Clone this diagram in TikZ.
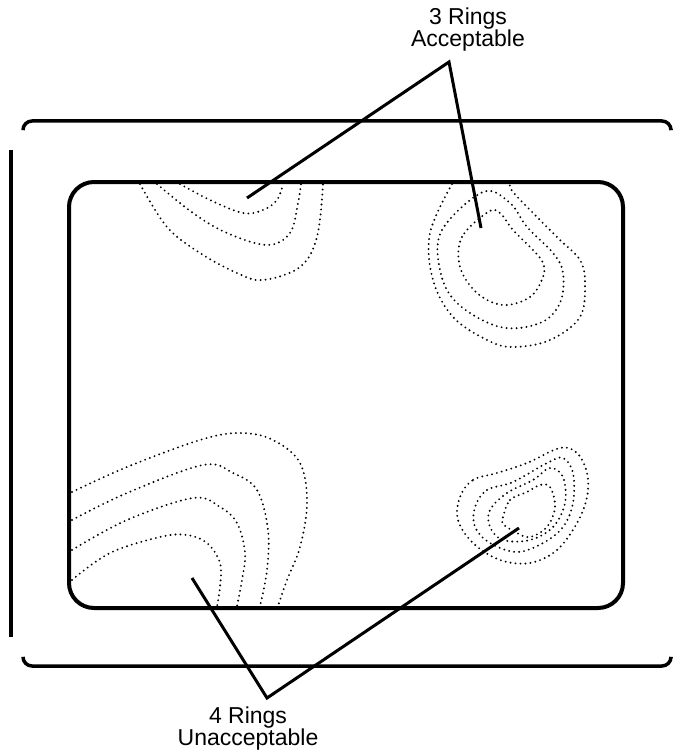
\documentclass[tikz,border=0pt]{standalone}
\usepackage{fontspec}
\setmainfont{Liberation Sans}
\usepackage{tikz}
\tikzset{
	frame/.style={line width=3.5pt},
	contour/.style={line width=2.1pt, line cap=round, dash pattern=on 0pt off 5pt},
	pointer/.style={line width=3pt, line join=miter},
	ringlabel/.style={align=center, inner sep=0pt, font=\fontsize{23}{22}\selectfont}
}

\begin{document}
\begin{tikzpicture}[x=1pt, y=-1pt]
	\useasboundingbox (0,0) rectangle (677,754);
	% frames
	\draw[frame, rounded corners=9pt] (23,129) -- (23,121) -- (671,121) -- (671,129);
	\draw[frame, rounded corners=9pt] (23,658) -- (23,666) -- (671,666) -- (671,658);
	\draw[frame] (11,150) -- (11,637);
	\draw[frame, line width=4pt, rounded corners=25pt] (69,182) rectangle (623,608);
	% contours, top left
	\draw[contour] plot[smooth, tension=0.6] coordinates {(180,184) (210,200) (243,213) (263,210) (277,200) (283,184)};
	\draw[contour] plot[smooth, tension=0.6] coordinates {(157,184) (193,213) (227,233) (267,245) (290,233) (298,203) (301,184)};
	\draw[contour] plot[smooth, tension=0.6] coordinates {(140,184) (167,227) (200,253) (237,273) (263,280) (300,267) (317,237) (323,184)};
	% contours, top right
	\draw[contour] plot[smooth cycle, tension=0.6] coordinates {(488,212) (462,237) (460,267) (477,293) (503,305) (530,297) (543,277) (543,263) (533,250) (513,230) (500,213)};
	\draw[contour] plot[smooth cycle, tension=0.6] coordinates {(483,192) (442,230) (440,270) (457,303) (500,327) (540,323) (560,303) (563,273) (553,253) (527,227) (510,203)};
	\draw[contour] plot[smooth, tension=0.6] coordinates {(452,184) (430,233) (433,280) (453,317) (487,340) (513,347) (550,340) (580,317) (585,283) (580,260) (560,240) (537,217) (513,192) (510,184)};
	% contours, bottom left
	\draw[contour] plot[smooth, tension=0.6] coordinates {(72,492) (127,467) (200,440) (240,433) (273,440) (300,463) (307,503) (300,547) (287,580) (278,606)};
	\draw[contour] plot[smooth, tension=0.6] coordinates {(72,520) (127,493) (203,465) (233,473) (257,490) (268,530) (267,570) (260,606)};
	\draw[contour] plot[smooth, tension=0.6] coordinates {(72,550) (127,520) (193,498) (220,507) (237,523) (245,553) (242,580) (237,606)};
	\draw[contour] plot[smooth, tension=0.6] coordinates {(72,580) (110,553) (160,537) (187,535) (207,543) (220,563) (220,587) (217,606)};
	% contours, bottom right
	\draw[contour] plot[smooth cycle, tension=0.6] coordinates {(460,497) (473,480) (497,473) (527,463) (560,448) (577,453) (587,473) (587,497) (577,523) (557,550) (530,563) (500,560) (473,543) (458,520)};
	\draw[contour] plot[smooth cycle, tension=0.6] coordinates {(475,507) (487,490) (513,482) (547,463) (563,458) (573,473) (573,503) (563,527) (543,543) (517,552) (490,543) (475,527)};
	\draw[contour] plot[smooth cycle, tension=0.6] coordinates {(490,510) (507,493) (533,480) (550,468) (563,477) (565,503) (553,527) (530,540) (503,540) (490,527)};
	\draw[contour] plot[smooth cycle, tension=0.6] coordinates {(503,517) (510,500) (527,492) (540,485) (550,487) (555,507) (547,527) (530,537) (517,533) (503,524)};
	% labels and pointers
	\node[ringlabel] (accept label) at (468,30) {3 Rings\\Acceptable};
	\node[ringlabel] (reject label) at (248,729) {4 Rings\\Unacceptable};
	\coordinate (accept tip) at (449,62);
	\coordinate (accept left) at (247,198);
	\coordinate (accept right) at (481,228);
	\coordinate (reject tip) at (267,698);
	\coordinate (reject left) at (192,578);
	\coordinate (reject right) at (519,528);
	\draw[pointer] (accept left) -- (accept tip) -- (accept right);
	\draw[pointer] (reject left) -- (reject tip) -- (reject right);
\end{tikzpicture}
\end{document}
